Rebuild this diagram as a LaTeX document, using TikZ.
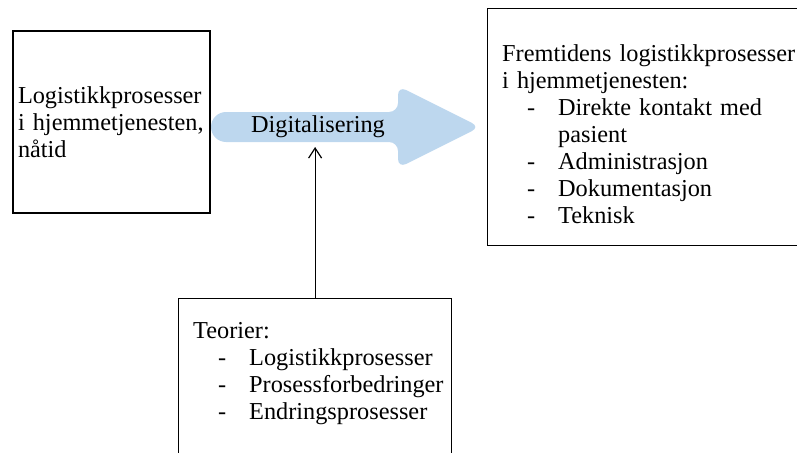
\documentclass[tikz,border=0pt]{standalone}
\usepackage{fontspec}
\setmainfont{Liberation Serif}
\usepackage{xcolor}
\usetikzlibrary{arrows.meta}

\definecolor{pilblaa}{RGB}{189,215,238}
\newcommand{\punkt}[1]{\makebox[56pt][l]{\hspace{25pt}-}#1}

\begin{document}
\begin{tikzpicture}[x=1pt,y=-1pt,
    boks/.style={draw,line width=1.2pt,inner sep=5pt},
    tekst/.style={align=left,inner sep=0pt,anchor=north west,font=\fontsize{24.3}{27}\selectfont},
    pil/.style={line width=1.2pt,-{Straight Barb[length=10pt,width=13pt]}}]
    \useasboundingbox (0,0) rectangle (797,452);

    % Digitalisering (blue arrow)
    \fill[pilblaa,rounded corners=9pt] (300,112) -- (398,112) -- (398,86) -- (480,127) -- (398,168) -- (398,142) -- (300,142)
        [rounded corners=15pt] -- (211,142) -- (211,112) -- cycle;
    \node[font=\fontsize{24.3}{27}\selectfont] (digital) at (318,127) {Digitalisering};

    % Nåtid
    \node[tekst,boks,anchor=center,text width=187pt,minimum height=182pt] (naatid) at (111.5,122)
        {Logistikkprosesser\\i hjemmetjenesten,\\nåtid};

    % Fremtid
    \node[boks,minimum width=400pt,minimum height=237pt,anchor=north west] (fremtid) at (487,8) {};
    \node[tekst,text width=300pt] (fremtidtekst) at (502,44)
        {Fremtidens logistikkprosesser\\i hjemmetjenesten:\\
        \punkt{Direkte kontakt med}\\\hspace*{56pt}pasient\\
        \punkt{Administrasjon}\\\punkt{Dokumentasjon}\\\punkt{Teknisk}};

    % Teorier
    \node[boks,minimum width=273pt,minimum height=200pt,anchor=north west] (teori) at (178,298) {};
    \node[tekst,text width=250pt] (teoritekst) at (193,322)
        {Teorier:\\\punkt{Logistikkprosesser}\\\punkt{Prosessforbedringer}\\\punkt{Endringsprosesser}};

    % Pil opp
    \coordinate (pilspiss) at (314,147);
    \draw[pil] (teori.north) -- (teori.north |- pilspiss);
\end{tikzpicture}
\end{document}
